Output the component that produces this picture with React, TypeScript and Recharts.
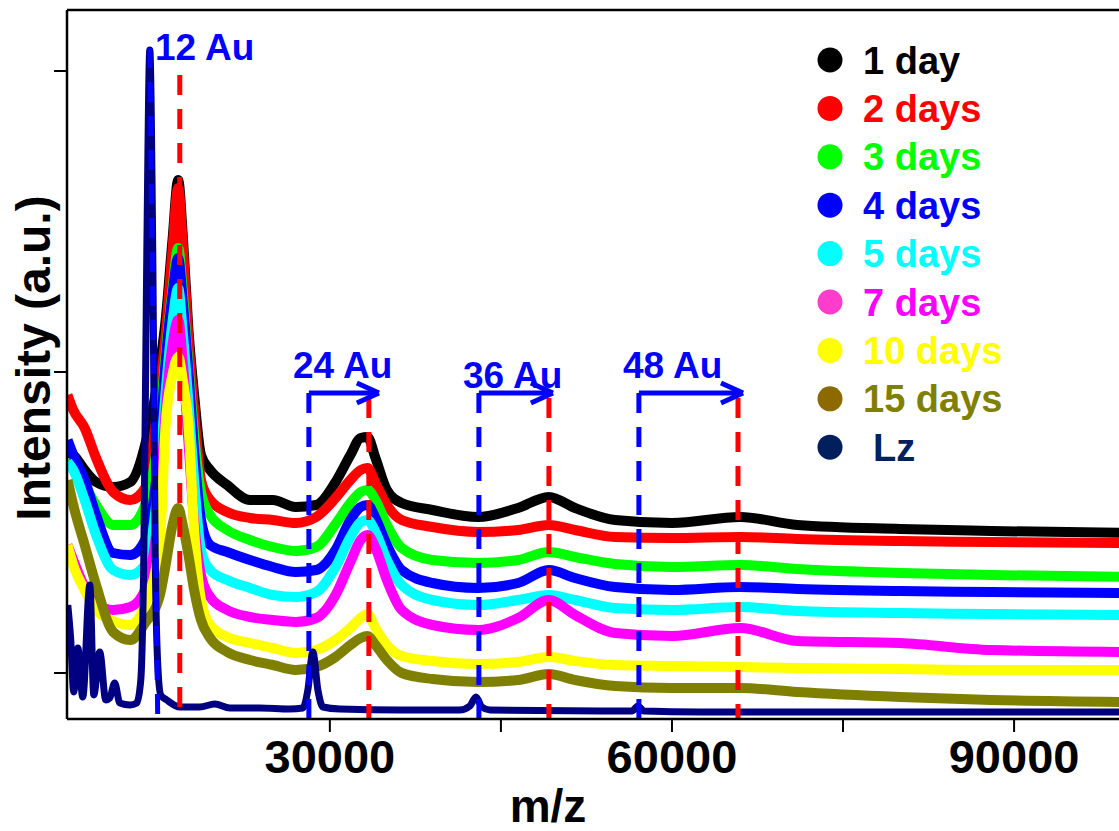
import React from 'react';
import { LineChart, Line, XAxis, YAxis, ReferenceLine } from 'recharts';

// m/z points shared by the aged samples
const mzGrid = [7000, 7500, 8500, 9500, 11000, 12500, 13800, 15100, 15600, 16200, 16700, 17100, 17600, 18100, 18700, 19500, 21000, 23000, 25000, 27000, 28800, 30500, 31800, 32700, 33300, 34000, 35000, 36300, 39000, 43000, 46500, 49200, 51500, 55000, 60000, 66000, 71000, 80000, 88000, 100000];

// intensity (a.u.), stacked traces
const day1 = [221, 218, 203, 191, 186, 191, 228, 308, 353, 433, 493, 438, 343, 278, 218, 203, 188, 173, 173, 166, 168, 191, 218, 235, 236, 215, 183, 170, 163, 156, 165, 176, 165, 153, 150, 156, 148, 144, 142, 140];
const day2 = [278, 263, 245, 215, 181, 173, 185, 288, 338, 423, 485, 428, 333, 263, 193, 173, 161, 155, 153, 150, 156, 175, 193, 203, 205, 190, 168, 153, 146, 141, 143, 148, 143, 136, 135, 136, 134, 132, 131, 130];
const day3 = [213, 208, 188, 168, 148, 148, 168, 253, 318, 383, 425, 381, 308, 238, 181, 158, 143, 133, 126, 122, 126, 149, 170, 181, 183, 173, 148, 125, 113, 110, 113, 121, 116, 109, 106, 108, 104, 100, 98, 96];
const day4 = [233, 218, 193, 158, 120, 118, 133, 233, 311, 378, 415, 371, 301, 221, 153, 128, 121, 113, 106, 101, 103, 123, 153, 166, 168, 155, 128, 103, 90, 85, 90, 103, 95, 86, 83, 86, 84, 82, 81, 80];
const day5 = [211, 203, 173, 138, 103, 98, 108, 208, 281, 351, 385, 341, 271, 193, 123, 103, 93, 85, 78, 76, 81, 106, 136, 151, 153, 141, 113, 88, 73, 68, 73, 78, 73, 65, 63, 66, 62, 60, 59, 58];
const day7 = [128, 113, 86, 70, 63, 66, 83, 178, 261, 328, 353, 311, 231, 151, 98, 76, 63, 56, 53, 51, 55, 78, 111, 133, 138, 125, 93, 63, 48, 43, 55, 73, 58, 40, 37, 45, 32, 30, 23, 21];
const day10 = [128, 108, 83, 63, 52, 48, 68, 133, 248, 298, 316, 293, 248, 143, 73, 48, 36, 30, 25, 20, 23, 33, 45, 55, 59, 45, 28, 17, 12, 9, 11, 16, 12, 8, 7, 6, 5, 4, 3, 3];
const day15 = [193, 168, 128, 88, 41, 33, 50, 78, 108, 148, 165, 148, 118, 83, 53, 35, 21, 13, 8, 3, 6, 16, 28, 35, 37, 28, 13, 0, -6, -9, -7, -1, -7, -13, -15, -15, -19, -24, -27, -29];

// lysozyme reference trace has its own sharp peaks
const lzMz = [7020, 7280, 7540, 7900, 8330, 8950, 9300, 9820, 10350, 10700, 11130, 11580, 12480, 13070, 13420, 13680, 13950, 14210, 14470, 14690, 14910, 15170, 15700, 16840, 18600, 19910, 21230, 23860, 26490, 27630, 28070, 28510, 28950, 29390, 30880, 36140, 41400, 42280, 42810, 43330, 44040, 53680, 56490, 57020, 57540, 62460, 80000, 100000];
const lzVal = [68, 33, -19, 25, -24, 88, -22, 21, -27, -25, -10, -30, -32, -30, -7, 113, 423, 623, 423, 113, 8, -22, -27, -34, -34, -31, -35, -35, -36, -35, -17, 21, -17, -34, -36, -37, -37, -33, -24, -34, -37, -38, -38, -33, -38, -39, -39, -39];

const seriesNames = ['1 day', '2 days', '3 days', '4 days', '5 days', '7 days', '10 days', '15 days'];
const seriesValues = [day1, day2, day3, day4, day5, day7, day10, day15];
const lineColors = ['#000000', '#ff0000', '#00ff00', '#0000ff', '#00ffff', '#ff00ff', '#ffff00', '#808000'];
const lzColor = '#000080';

const legendNames = [...seriesNames, 'Lz'];
const legendDot = ['#000000', '#ff0000', '#00ff00', '#0000ff', '#00ffff', '#ff3ccc', '#ffff00', '#8c6a00', '#001f5c'];
const legendText = ['#000000', '#ff0000', '#00ff00', '#0000ff', '#00ffff', '#ff00ff', '#ffff00', '#808000', '#002060'];

// annotation positions (m/z)
const monoLz = [14210, 14910];
const monoAu = 16840;
const lzOligo = [28160, 43070, 57100];
const auOligo = [33420, 49210, 65790];
const arrowTips = [34300, 49560, 66230];
const oligoLabels = ['24 Au', '36 Au', '48 Au'];

const xTicks = [30000, 45000, 60000, 75000, 90000];
const yTicks = [0, 301, 602];

const font = '"Liberation Sans", Arial, sans-serif';

const App: React.FC = () => {
  const traces = seriesValues.map((vals) => mzGrid.map((mz, i) => ({ mz, v: vals[i] })));
  const lzData = lzMz.map((mz, i) => ({ mz, v: lzVal[i] }));

  return (
    <div style={{ position: 'relative', width: 1119, height: 831, fontFamily: font }}>
      <style>{'body{margin:0;overflow:hidden;}'}</style>
      <LineChart width={1119} height={831} margin={{ top: 10, right: 0, bottom: 0, left: 0 }}>
        <XAxis
          type="number"
          dataKey="mz"
          domain={[6950, 99200]}
          allowDataOverflow
          ticks={xTicks}
          interval={0}
          tickFormatter={(v: number) => (v % 30000 === 0 ? String(v) : '')}
          height={112}
          tickSize={13}
          tickMargin={8}
          axisLine={{ stroke: '#000', strokeWidth: 2.5 }}
          tickLine={{ stroke: '#000', strokeWidth: 2 }}
          tick={{ fontSize: 47, fontWeight: 'bold', fill: '#000', fontFamily: font }}
        />
        <YAxis
          type="number"
          domain={[-46, 663]}
          allowDataOverflow
          ticks={yTicks}
          width={67}
          tickSize={13}
          axisLine={{ stroke: '#000', strokeWidth: 2.5 }}
          tickLine={{ stroke: '#000', strokeWidth: 2 }}
          tick={() => <g />}
        />
        <ReferenceLine y={663} stroke="#000" strokeWidth={2.5} />

        {traces.map((data, i) => (
          <Line
            key={seriesNames[i]}
            data={data}
            dataKey="v"
            type="monotone"
            stroke={lineColors[i]}
            strokeWidth={10}
            strokeLinejoin="round"
            dot={false}
            isAnimationActive={false}
          />
        ))}
        <Line
          data={lzData}
          dataKey="v"
          type="monotone"
          stroke={lzColor}
          strokeWidth={7}
          dot={false}
          isAnimationActive={false}
        />

        <ReferenceLine
          segment={[{ x: monoAu, y: 598 }, { x: monoAu, y: -46 }]}
          stroke="#ff0000"
          strokeWidth={5}
          strokeDasharray="20 14"
          ifOverflow="visible"
        />
        <ReferenceLine
          segment={[{ x: monoLz[0], y: 625 }, { x: monoLz[1], y: -50 }]}
          stroke="#0000ff"
          strokeWidth={5}
          strokeDasharray="20 14"
          ifOverflow="visible"
        />
        {auOligo.map((x) => (
          <ReferenceLine
            key={'au' + x}
            segment={[{ x, y: 275 }, { x, y: -47 }]}
            stroke="#ff0000"
            strokeWidth={5}
            strokeDasharray="20 14"
            ifOverflow="visible"
          />
        ))}
        {lzOligo.map((x) => (
          <ReferenceLine
            key={'lz' + x}
            segment={[{ x, y: 280 }, { x, y: -50 }]}
            stroke="#0000ff"
            strokeWidth={5}
            strokeDasharray="20 14"
            ifOverflow="visible"
          />
        ))}
        {lzOligo.map((x, i) => (
          <ReferenceLine
            key={'arrow' + x}
            segment={[{ x, y: 280 }, { x: arrowTips[i], y: 280 }]}
            stroke="#0000ff"
            strokeWidth={5}
            ifOverflow="visible"
          />
        ))}
        {arrowTips.map((x) => (
          <ReferenceLine
            key={'headA' + x}
            segment={[{ x: x - 1930, y: 290 }, { x, y: 280 }]}
            stroke="#0000ff"
            strokeWidth={5}
            ifOverflow="visible"
          />
        ))}
        {arrowTips.map((x) => (
          <ReferenceLine
            key={'headB' + x}
            segment={[{ x: x - 1930, y: 270 }, { x, y: 280 }]}
            stroke="#0000ff"
            strokeWidth={5}
            ifOverflow="visible"
          />
        ))}
      </LineChart>

      <svg
        width={1119}
        height={831}
        style={{ position: 'absolute', left: 0, top: 0, pointerEvents: 'none' }}
        fontFamily={font}
        fontWeight="bold"
      >
        <text x={50} y={358} fontSize={48} textAnchor="middle" transform="rotate(-90 50 358)" fill="#000">
          Intensity (a.u.)
        </text>
        <text x={548} y={822} fontSize={46} textAnchor="middle" fill="#000">
          m/z
        </text>

        <text x={155} y={60} fontSize={37} fill="#0000ff">12 Au</text>
        <text x={293} y={378} fontSize={37} fill="#0000ff">{oligoLabels[0]}</text>
        <text x={463} y={388} fontSize={37} fill="#0000ff">{oligoLabels[1]}</text>
        <text x={623} y={378} fontSize={37} fill="#0000ff">{oligoLabels[2]}</text>

        {legendNames.map((name, i) => {
          const cy = 60 + i * 48.4;
          return (
            <g key={name}>
              <circle cx={830} cy={cy} r={12.5} fill={legendDot[i]} />
              <text x={name === 'Lz' ? 873 : 863} y={cy + 13.6} fontSize={38} fill={legendText[i]}>
                {name}
              </text>
            </g>
          );
        })}
      </svg>
    </div>
  );
};

export default App;
